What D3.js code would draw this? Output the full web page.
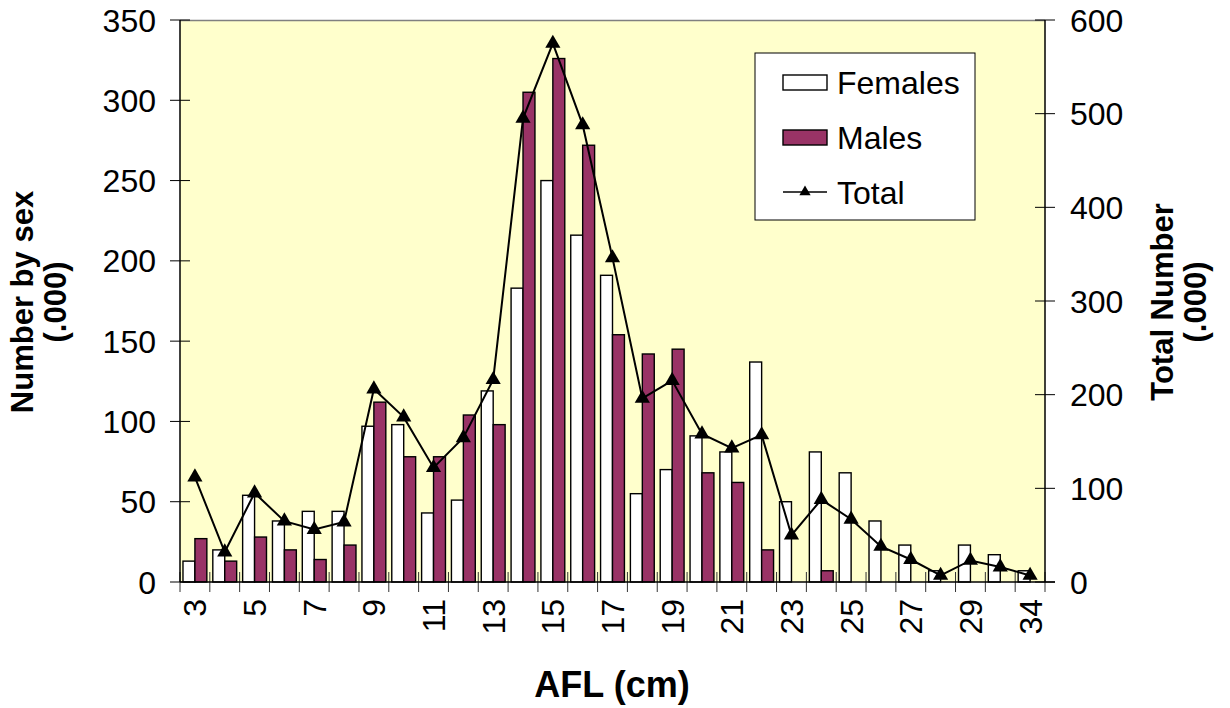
<!DOCTYPE html>
<html>
<head>
<meta charset="utf-8">
<title>AFL by sex</title>
<script src="https://d3js.org/d3.v7.min.js"></script>
<style>
    body { margin: 0; background: #ffffff; }
    svg { display: block; font-family: "Liberation Sans", Arial, sans-serif; }
    .tick-label { font-size: 32px; fill: #000; }
    .title { font-size: 31px; font-weight: bold; fill: #000; }
</style>
</head>
<body>
<div id="chart"></div>
<script>
// AFL length classes (cm)
var lengths = ["3","4","5","6","7","8","9","10","11","12","13","14","15","16","17","18","19","20",
               "21","22","23","24","25","26","27","28","29","30","34"];
// numbers by sex (.000)
var females = [13,20,54,38,44,44,97,98,43,51,119,183,250,216,191,55,70,91,81,137,50,81,68,38,23,7,23,17,7];
var males   = [27,13,28,20,14,23,112,78,78,104,98,305,326,272,154,142,145,68,62,20,0,7,0,0,0,0,0,0,0];
// total number (.000)
var totals  = [112,32,95,65,56,64,206,176,122,154,216,495,575,488,346,196,215,158,143,157,50,88,67,38,24,7,23,16,7];

var leftTicks = [0,50,100,150,200,250,300,350];
var rightTicks = [0,100,200,300,400,500,600];

var W = 1230, H = 708;
var plot = {left: 180, right: 1045, top: 20, bottom: 582};

var svg = d3.select("#chart").append("svg").attr("width", W).attr("height", H);

var x = d3.scaleBand().domain(lengths).range([plot.left, plot.right]).padding(0);
var yL = d3.scaleLinear().domain([0, 350]).range([plot.bottom, plot.top]);
var yR = d3.scaleLinear().domain([0, 600]).range([plot.bottom, plot.top]);

// plot background
svg.append("rect")
    .attr("x", plot.left).attr("y", plot.top)
    .attr("width", plot.right - plot.left).attr("height", plot.bottom - plot.top)
    .attr("fill", "#ffffcc");
svg.append("line")
    .attr("x1", plot.left).attr("x2", plot.right)
    .attr("y1", plot.top + 0.5).attr("y2", plot.top + 0.5)
    .attr("stroke", "#808080").attr("stroke-width", 1.5);

// x ticks at category boundaries
var bounds = lengths.map(function(d){ return x(d); }).concat([plot.right]);
svg.selectAll(".xtick").data(bounds).enter().append("line")
    .attr("x1", function(d){ return d; }).attr("x2", function(d){ return d; })
    .attr("y1", plot.bottom - 10).attr("y2", plot.bottom + 10)
    .attr("stroke", "#333").attr("stroke-width", 1);

var bw = x.bandwidth();
var pad = bw * 0.1, barW = bw * 0.4;

var rows = lengths.map(function(d, i){ return {len: d, f: females[i], m: males[i], t: totals[i]}; });

svg.selectAll(".fbar").data(rows).enter().append("rect")
    .attr("x", function(d){ return x(d.len) + pad; })
    .attr("y", function(d){ return yL(d.f); })
    .attr("width", barW)
    .attr("height", function(d){ return plot.bottom - yL(d.f); })
    .attr("fill", "#ffffff").attr("stroke", "#000").attr("stroke-width", 1.4);

svg.selectAll(".mbar").data(rows.filter(function(d){ return d.m > 0; })).enter().append("rect")
    .attr("x", function(d){ return x(d.len) + pad + barW; })
    .attr("y", function(d){ return yL(d.m); })
    .attr("width", barW)
    .attr("height", function(d){ return plot.bottom - yL(d.m); })
    .attr("fill", "#993366").attr("stroke", "#000").attr("stroke-width", 1.4);

// total line
var line = d3.line()
    .x(function(d){ return x(d.len) + bw / 2; })
    .y(function(d){ return yR(d.t); });
svg.append("path").datum(rows)
    .attr("d", line)
    .attr("fill", "none").attr("stroke", "#000").attr("stroke-width", 2);

var tri = d3.symbol().type(d3.symbolTriangle).size(100);
svg.selectAll(".mark").data(rows).enter().append("path")
    .attr("d", tri)
    .attr("transform", function(d){ return "translate(" + (x(d.len) + bw / 2) + "," + yR(d.t) + ")"; })
    .attr("fill", "#000");

// axes lines
svg.append("line").attr("x1", plot.left).attr("x2", plot.left)
    .attr("y1", plot.top).attr("y2", plot.bottom).attr("stroke", "#000").attr("stroke-width", 1.5);
svg.append("line").attr("x1", plot.right).attr("x2", plot.right)
    .attr("y1", plot.top).attr("y2", plot.bottom).attr("stroke", "#000").attr("stroke-width", 1.5);
svg.append("line").attr("x1", plot.left).attr("x2", plot.right + 10)
    .attr("y1", plot.bottom).attr("y2", plot.bottom).attr("stroke", "#000").attr("stroke-width", 1.5);

// left axis ticks and labels
svg.selectAll(".lt").data(leftTicks).enter().append("line")
    .attr("x1", plot.left - 10).attr("x2", plot.left + 10)
    .attr("y1", function(d){ return yL(d); }).attr("y2", function(d){ return yL(d); })
    .attr("stroke", "#000").attr("stroke-width", 1);
svg.selectAll(".ll").data(leftTicks).enter().append("text")
    .attr("class", "tick-label")
    .attr("x", 156).attr("y", function(d){ return yL(d); })
    .attr("dy", "0.36em").attr("text-anchor", "end")
    .text(function(d){ return d; });

// right axis ticks and labels
svg.selectAll(".rt").data(rightTicks).enter().append("line")
    .attr("x1", plot.right - 10).attr("x2", plot.right + 10)
    .attr("y1", function(d){ return yR(d); }).attr("y2", function(d){ return yR(d); })
    .attr("stroke", "#000").attr("stroke-width", 1);
svg.selectAll(".rl").data(rightTicks).enter().append("text")
    .attr("class", "tick-label")
    .attr("x", 1070).attr("y", function(d){ return yR(d); })
    .attr("dy", "0.36em").attr("text-anchor", "start")
    .text(function(d){ return d; });

// x labels, every other class
svg.selectAll(".xl").data(lengths.filter(function(d, i){ return i % 2 === 0; })).enter().append("text")
    .attr("class", "tick-label")
    .attr("transform", function(d){ return "translate(" + (x(d) + bw / 2) + "," + 599 + ") rotate(-90)"; })
    .attr("dy", "0.36em").attr("text-anchor", "end")
    .text(function(d){ return d; });

// axis titles
var lt = svg.append("text").attr("class", "title")
    .attr("transform", "translate(22,302) rotate(-90)").attr("text-anchor", "middle");
lt.append("tspan").attr("x", 0).attr("dy", "0.36em").text("Number by sex");
lt.append("tspan").attr("x", 0).attr("dy", "1.05em").text("(.000)");

var rt = svg.append("text").attr("class", "title")
    .attr("transform", "translate(1162,302) rotate(-90)").attr("text-anchor", "middle");
rt.append("tspan").attr("x", 0).attr("dy", "0.36em").text("Total Number");
rt.append("tspan").attr("x", 0).attr("dy", "1.05em").text("(.000)");

svg.append("text").attr("class", "title")
    .attr("x", 612).attr("y", 697).attr("text-anchor", "middle")
    .style("font-size", "36px")
    .text("AFL (cm)");

// legend
var lg = svg.append("g").attr("transform", "translate(755,53)");
lg.append("rect").attr("width", 220).attr("height", 167)
    .attr("fill", "#ffffff").attr("stroke", "#000").attr("stroke-width", 1);
var items = [
    {name: "Females", kind: "bar", fill: "#ffffff"},
    {name: "Males", kind: "bar", fill: "#993366"},
    {name: "Total", kind: "line"}
];
items.forEach(function(it, i){
    var cy = 29 + i * 55;
    if (it.kind === "bar") {
        lg.append("rect").attr("x", 28).attr("y", cy - 7).attr("width", 44).attr("height", 15)
            .attr("fill", it.fill).attr("stroke", "#000").attr("stroke-width", 1.4);
    } else {
        lg.append("line").attr("x1", 28).attr("x2", 72).attr("y1", cy).attr("y2", cy)
            .attr("stroke", "#000").attr("stroke-width", 1.5);
        lg.append("path").attr("d", d3.symbol().type(d3.symbolTriangle).size(55))
            .attr("transform", "translate(50," + cy + ")").attr("fill", "#000");
    }
    lg.append("text").attr("class", "tick-label")
        .attr("x", 82).attr("y", cy).attr("dy", "0.36em")
        .text(it.name);
});
</script>
</body>
</html>
